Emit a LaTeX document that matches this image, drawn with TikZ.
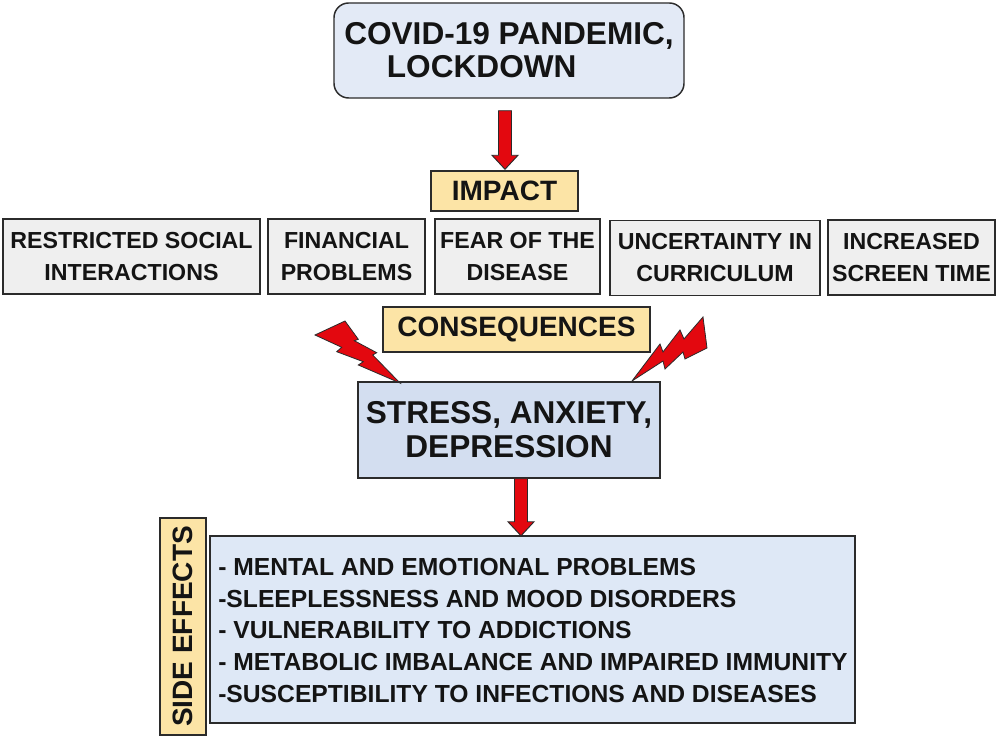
\documentclass[tikz,border=0pt]{standalone}
\usepackage{fontspec}
\setmainfont{Liberation Sans}
\usetikzlibrary{calc}
\definecolor{boxline}{HTML}{2B2B2B}
\definecolor{topfill}{HTML}{E3EAF6}
\definecolor{stressfill}{HTML}{D3DEF0}
\definecolor{listfill}{HTML}{DEE8F6}
\definecolor{greyfill}{HTML}{EFEFEF}
\definecolor{yellowfill}{HTML}{FCE4A6}
\definecolor{boltred}{HTML}{E3080F}
\definecolor{txt}{HTML}{141414}
\newcommand\blockarr[2]{%
  \draw[redblock] let \p1=(#1), \p2=(#2) in
    (\x1-4.875pt,\y1) -- (\x1+4.875pt,\y1) -- (\x1+4.875pt,\y2+10.5pt)
    -- (\x1+9.75pt,\y2+10.5pt) -- (\x1,\y2) -- (\x1-9.75pt,\y2+10.5pt)
    -- (\x1-4.875pt,\y2+10.5pt) -- cycle;}
\begin{document}
\begin{tikzpicture}[x=0.75pt,y=-0.75pt,
  box/.style={draw=boxline,line width=1.1pt,inner sep=0pt,align=center,text=txt},
  bigtxt/.style={font=\fontsize{23.7}{24.75}\selectfont\bfseries},
  labtxt/.style={font=\fontsize{21}{24}\selectfont\bfseries},
  rowtxt/.style={font=\fontsize{17.4}{24}\selectfont\bfseries},
  rowbox/.style={box,fill=greyfill,rowtxt,minimum height=56.25pt},
  labbox/.style={box,fill=yellowfill,labtxt},
  redblock/.style={fill=boltred,draw=boxline,line width=0.7pt,line join=miter},
  bolt/.style={fill=boltred,draw=boxline,line width=0.6pt,line join=miter}]
\useasboundingbox (0,0) rectangle (1000,741);
\fill[white] (0,0) rectangle (1000,741);

% top box
\node[box,fill=topfill,bigtxt,rounded corners=11pt,minimum width=262.5pt,minimum height=71.25pt,align=left] (top) at (509,50.5)
  {\raisebox{0pt}{COVID-19 PANDEMIC,}\\\hspace*{32pt}LOCKDOWN};

% impact label
\node[labbox,minimum width=110.25pt,minimum height=30pt] (impact) at (504.5,191) {IMPACT};

% row of impacts
\node[rowbox,minimum width=192.75pt] (r1) at (131.5,256.5) {RESTRICTED SOCIAL\\INTERACTIONS};
\node[rowbox,minimum width=117.75pt] (r2) at (346.5,256.5) {FINANCIAL\\PROBLEMS};
\node[rowbox,minimum width=123.75pt] (r3) at (517.5,256.5) {FEAR OF THE\\DISEASE};
\node[rowbox,minimum width=157.5pt] (r4) at (715,258) {UNCERTAINTY IN\\CURRICULUM};
\node[rowbox,minimum width=125.25pt] (r5) at (911.5,257.5) {INCREASED\\SCREEN TIME};

% consequences label
\node[labbox,minimum width=200.25pt,minimum height=33.75pt] (cons) at (516.5,329.5) {CONSEQUENCES};

% stress box
\node[box,fill=stressfill,bigtxt,font=\fontsize{23.7}{25.5}\selectfont\bfseries,minimum width=226.5pt,minimum height=72pt] (stress) at (509,430)
  {STRESS, ANXIETY,\\DEPRESSION};

% side effects label
\node[labbox,rotate=90,minimum width=162.75pt,minimum height=34.5pt] (side) at (183,626.5) {SIDE EFFECTS};

% list box
\node[box,fill=listfill,minimum width=483.75pt,minimum height=140.25pt] (list) at (532.5,629.5) {};
\node[anchor=west,align=left,inner sep=0pt,text=txt,font=\fontsize{18.5}{23.8}\selectfont\bfseries] (listtxt) at (218,630.5)
  {- MENTAL AND EMOTIONAL PROBLEMS\\
   -SLEEPLESSNESS AND MOOD DISORDERS\\
   - VULNERABILITY TO ADDICTIONS\\
   - METABOLIC IMBALANCE AND IMPAIRED IMMUNITY\\
   -SUSCEPTIBILITY TO INFECTIONS AND DISEASES};

% block arrows
\coordinate (a1s) at ($(top.south)+(-4,12)$);
\coordinate (a1e) at ($(impact.north)+(0.5,-1)$);
\blockarr{a1s}{a1e}
\coordinate (a2s) at ($(stress.south)+(12,0)$);
\coordinate (a2e) at ($(list.north)+(-11.5,0.5)$);
\blockarr{a2s}{a2e}

% lightning bolts
\draw[bolt] (315,335) -- (345,321) -- (358.3,339.3) -- (354.3,340.7) -- (376.7,352.7)
  -- (372.7,355) -- (400,383) -- (358.3,365) -- (363.3,361.7) -- (336.7,351.7)
  -- (341.7,347.3) -- cycle;
\draw[bolt] (632,381) -- (660,344) -- (663,352) -- (680,330) -- (684,339) -- (703,317)
  -- (707,348) -- (685,359) -- (683,352) -- (665,369) -- (663,361) -- cycle;
\end{tikzpicture}
\end{document}
